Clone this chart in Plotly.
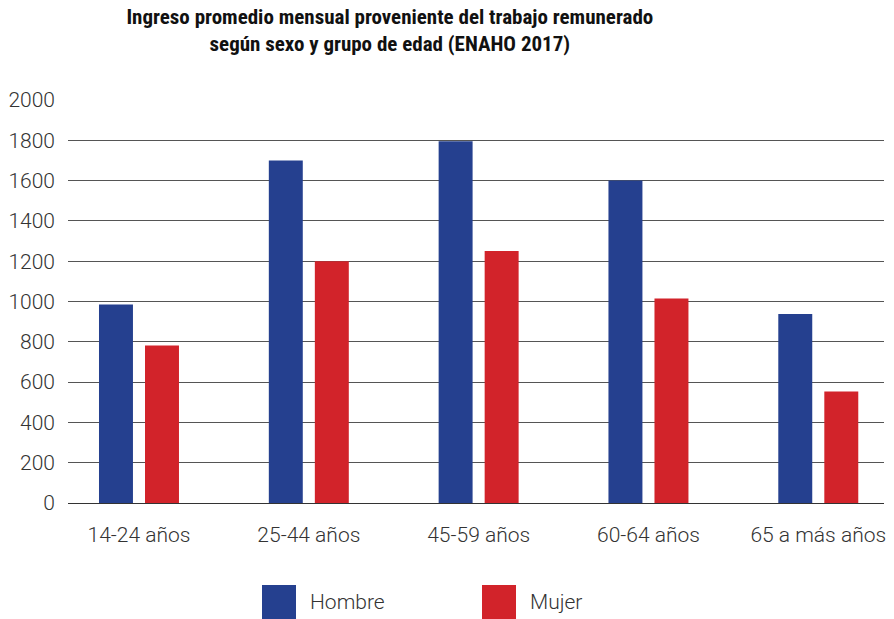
import plotly.graph_objects as go

categories = ["14-24 años", "25-44 años", "45-59 años", "60-64 años", "65 a más años"]
series_names = ["Hombre", "Mujer"]
hombre = [985, 1700, 1795, 1600, 938]
mujer = [782, 1200, 1250, 1015, 553]
colors = ["#25408F", "#D2232A"]
y_ticks = [0, 200, 400, 600, 800, 1000, 1200, 1400, 1600, 1800, 2000]

# page has an 8px body margin, so the figure is sized/offset accordingly
W, H = 886, 611
L, R, T, B = 60, 10, 92, 116
PW, PH = W - L - R, H - T - B

fig = go.Figure()
for name, vals, col in zip(series_names, [hombre, mujer], colors):
    fig.add_trace(go.Bar(x=categories, y=vals, name=name, marker_color=col,
                         marker_line_width=0, showlegend=False))

# legend drawn as large squares + labels, as in the reference
leg_x = [254, 474]  # figure pixels
for i, (name, col) in enumerate(zip(series_names, colors)):
    fig.add_shape(type="rect", xref="paper", yref="paper",
                  x0=(leg_x[i] - L) / PW, x1=(leg_x[i] + 34 - L) / PW,
                  y0=-(577 - (T + PH)) / PH, y1=-(611 - (T + PH)) / PH,
                  fillcolor=col, line_width=0)
    fig.add_annotation(text=name, xref="paper", yref="paper",
                       x=(leg_x[i] + 46 - L) / PW, y=-(594 - (T + PH)) / PH,
                       xanchor="left", yanchor="middle", showarrow=False,
                       font=dict(family="Roboto", size=21, color="#333", weight=300))

fig.update_layout(
    width=W, height=H,
    margin=dict(l=L, r=R, t=T, b=B),
    paper_bgcolor="white", plot_bgcolor="white",
    barmode="group", bargap=0.458, bargroupgap=0.262,
    title=dict(text="Ingreso promedio mensual proveniente del trabajo remunerado<br>según sexo y grupo de edad (ENAHO 2017)",
               x=0.431, xref="container", xanchor="center", y=0.974, yanchor="top",
               pad=dict(t=0, b=0),
               font=dict(family="Liberation Sans Narrow, Roboto Condensed, Roboto", size=21, color="#111", weight="bold")),
    font=dict(family="Roboto", color="#333"),
    xaxis=dict(range=[-0.418, 4.387], showgrid=False, showline=False, zeroline=False,
               automargin=False,
               tickfont=dict(family="Roboto", size=21, color="#333", weight=300),
               ticks="", ticklabelstandoff=17),
    yaxis=dict(range=[0, 2000], tickvals=y_ticks, showgrid=True, gridcolor="#555", gridwidth=1,
               zeroline=True, zerolinecolor="#333", zerolinewidth=1, showline=False,
               automargin=False,
               tickfont=dict(family="Roboto", size=21, color="#333", weight=300),
               ticks="", ticklabelstandoff=12),
)

fig.write_html("out.html")
